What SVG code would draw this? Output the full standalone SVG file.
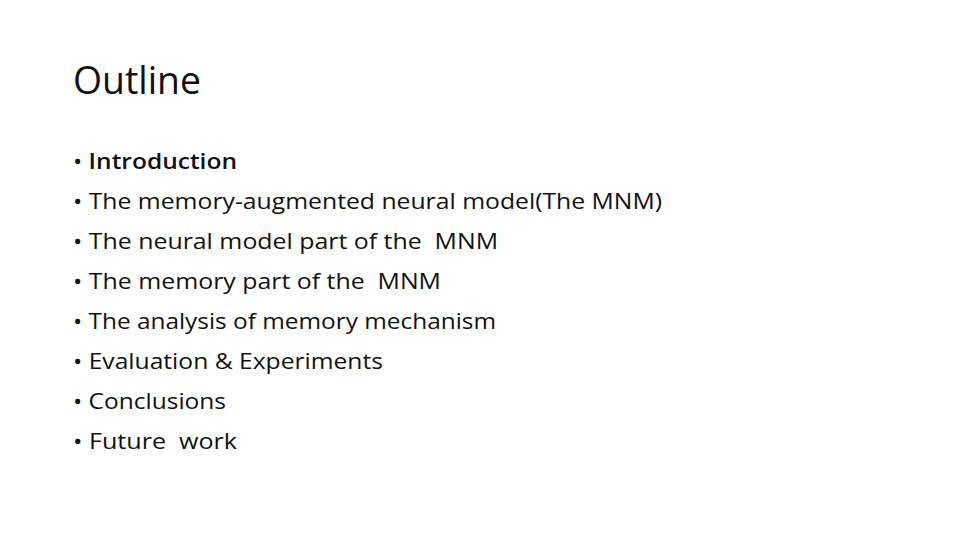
<svg xmlns="http://www.w3.org/2000/svg" width="960" height="540" viewBox="0 0 960 540">
<style>
.t{font-family:"Open Sans","Liberation Sans",sans-serif;font-size:22px;fill:#111}
.h{font-family:"Open Sans","Liberation Sans",sans-serif;font-size:38px;fill:#111}
</style>
<rect width="960" height="540" fill="#fff"/>
<text class="h" x="73" y="94" textLength="128" lengthAdjust="spacingAndGlyphs">Outline</text>
<g class="t">
<text x="73" y="169" textLength="164" lengthAdjust="spacingAndGlyphs">•&#160;<tspan font-weight="600">Introduction</tspan></text>
<text x="73" y="209" textLength="589" lengthAdjust="spacingAndGlyphs">•&#160;The memory-augmented neural model(The MNM)</text>
<text x="73" y="249" textLength="425" lengthAdjust="spacingAndGlyphs">•&#160;The neural model part of the&#160; MNM</text>
<text x="73" y="289" textLength="368" lengthAdjust="spacingAndGlyphs">•&#160;The memory part of the&#160; MNM</text>
<text x="73" y="329" textLength="423" lengthAdjust="spacingAndGlyphs">•&#160;The analysis of memory mechanism</text>
<text x="73" y="369" textLength="310" lengthAdjust="spacingAndGlyphs">•&#160;Evaluation &amp; Experiments</text>
<text x="73" y="409" textLength="153" lengthAdjust="spacingAndGlyphs">•&#160;Conclusions</text>
<text x="73" y="449" textLength="164" lengthAdjust="spacingAndGlyphs">•&#160;Future&#160; work</text>
</g>
</svg>
